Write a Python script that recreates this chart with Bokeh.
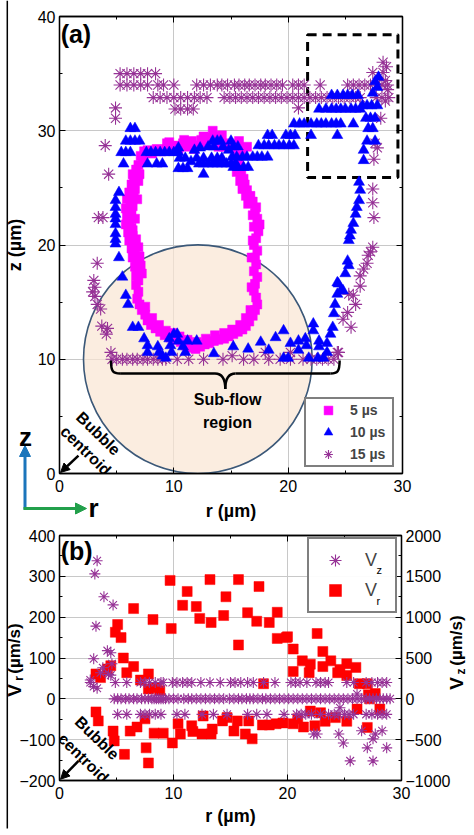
from bokeh.plotting import figure
from bokeh.layouts import column
from bokeh.models import (Range1d, LinearAxis, SingleIntervalTicker, Legend, LegendItem,
                          Label, Arrow, NormalHead)
from bokeh.embed import file_html
from bokeh.resources import INLINE

FONT = "Liberation Sans"

# ---------------- panel (a): interface positions (r, z) in um ----------------
pts_5us = [
    (7.4, 28.2), (7.1, 27.8), (7.3, 27.4), (6.9, 27.0), (6.7, 26.6), (7.0, 26.2), (6.5, 25.9), (6.9, 25.6),
    (6.3, 25.3), (6.6, 24.9), (6.1, 24.6), (6.5, 24.3), (5.9, 24.0), (6.2, 23.6), (5.8, 23.2), (6.3, 22.9),
    (5.9, 22.5), (6.1, 22.1), (5.8, 21.8), (6.3, 21.5), (6.0, 21.1), (6.4, 20.8), (6.1, 20.4), (6.5, 20.1),
    (6.3, 19.7), (6.6, 19.3), (6.4, 18.9), (6.7, 18.5), (6.6, 18.1), (6.8, 17.7), (6.7, 17.3), (6.9, 16.9),
    (6.7, 16.5), (6.9, 15.9), (6.8, 15.3), (7.0, 14.8), (7.2, 14.3), (7.5, 13.9), (7.7, 13.4), (8.0, 13.0),
    (8.4, 12.7), (8.8, 12.4), (9.2, 12.1), (9.7, 11.9), (10.1, 11.7), (10.6, 11.5), (11.0, 11.2), (11.5, 11.0),
    (11.9, 10.9), (12.3, 11.1), (12.7, 11.3), (13.1, 11.4), (13.5, 11.6), (13.9, 11.7), (14.4, 11.8),
    (14.8, 12.0), (15.2, 12.2), (15.6, 12.4), (16.0, 12.6), (16.3, 12.9), (16.6, 13.3), (16.9, 13.8),
    (17.1, 14.3), (17.3, 14.8), (17.2, 15.4), (17.0, 16.0), (17.1, 16.6), (17.3, 17.2), (17.0, 17.7),
    (17.2, 18.3), (17.1, 18.9), (17.3, 19.5), (17.0, 20.0), (17.2, 20.6), (17.4, 21.2), (17.5, 21.8),
    (17.3, 22.3), (17.1, 22.8), (17.2, 23.3), (16.9, 23.8), (16.7, 24.3), (16.4, 24.8), (16.2, 25.3),
    (16.1, 25.8), (15.9, 26.3), (15.8, 26.8), (15.7, 27.3), (15.6, 27.7),
    (16.4, 28.6), (16.0, 28.3), (15.6, 28.8), (15.2, 28.5), (14.8, 28.9), (14.4, 28.6), (14.0, 29.1),
    (13.6, 29.5), (13.4, 30.0), (13.2, 29.4), (12.8, 28.9), (12.4, 29.2), (12.0, 28.7), (11.6, 29.1),
    (11.2, 28.6), (10.8, 28.9), (10.4, 28.4), (10.0, 28.7), (9.6, 29.0), (9.3, 28.4), (8.9, 28.2),
    (8.5, 28.4), (8.1, 28.0), (7.7, 28.3),
    (6.0, 23.0), (6.6, 22.3), (6.4, 21.3), (6.7, 20.5), (6.9, 19.8), (7.0, 19.0), (7.1, 18.2), (7.2, 17.5),
    (6.4, 26.2), (6.8, 24.0), (6.4, 23.4), (7.5, 14.6), (8.1, 13.6), (8.7, 13.0), (9.3, 12.5), (9.9, 12.3),
    (10.5, 12.0), (11.2, 11.7), (12.0, 11.5), (12.8, 11.8), (13.6, 12.1), (14.4, 12.3), (15.1, 12.6),
    (15.8, 13.0), (16.3, 13.6), (16.7, 14.3), (16.8, 16.3), (16.8, 18.9), (16.9, 20.4), (17.0, 21.6),
    (16.9, 22.6), (16.5, 23.6), (16.3, 24.3), (16.0, 24.9), (15.8, 25.6), (15.5, 26.4), (15.4, 27.2),
    (9.4, 28.9), (10.9, 29.2), (12.6, 29.5), (14.2, 29.6), (15.7, 29.1), (11.8, 28.4), (13.9, 28.6),
]

pts_10us = [
    (6.2, 30.2), (6.6, 30.2), (5.8, 29.1), (6.2, 29.1), (6.6, 29.1), (7.0, 29.1),
    (5.4, 28.1), (5.8, 28.1), (6.2, 28.1), (7.6, 28.1), (8.0, 28.1), (8.4, 28.1), (8.8, 28.1), (9.2, 28.1),
    (9.6, 28.1), (10.0, 28.1), (10.4, 28.1), (5.6, 27.1), (7.7, 27.1), (8.5, 27.1), (9.0, 27.1),
    (10.4, 26.7), (10.8, 26.7), (11.2, 26.7), (12.6, 26.2), (10.4, 28.5), (11.8, 28.3), (12.3, 28.5),
    (13.4, 29.1), (13.8, 29.1), (14.1, 29.1), (15.0, 29.1), (10.5, 27.6), (11.0, 27.6), (11.5, 27.3),
    (12.0, 27.6), (12.6, 27.6), (13.3, 27.6), (13.8, 27.6), (14.2, 27.6), (12.2, 27.1), (12.6, 27.1),
    (13.0, 27.1), (13.4, 27.1), (13.8, 27.1), (14.2, 27.1), (14.6, 27.1), (15.0, 27.1), (15.4, 27.1),
    (13.0, 28.6), (13.5, 28.6), (14.3, 28.6), (14.8, 28.3), (15.2, 28.6), (15.6, 28.6),
    (15.1, 27.7), (15.5, 27.7), (16.0, 27.7), (16.4, 27.7), (16.9, 27.7), (17.3, 27.7), (17.7, 27.7),
    (18.2, 27.7), (15.2, 26.8), (15.6, 26.8), (16.1, 26.8), (16.5, 26.8),
    (17.4, 28.7), (17.9, 28.7), (18.3, 28.7), (18.8, 28.7), (19.2, 28.7), (19.6, 28.7), (20.1, 28.7),
    (20.5, 28.7), (18.2, 29.6), (18.6, 29.6), (19.8, 29.6), (20.2, 29.6), (20.6, 29.6), (22.0, 29.6),
    (24.3, 29.6), (20.5, 30.6), (21.0, 30.6), (21.4, 30.6), (22.0, 30.6), (22.5, 30.6), (22.9, 30.6),
    (23.3, 30.6), (23.8, 30.6), (24.2, 30.6), (24.6, 30.6), (25.7, 30.6),
    (22.7, 31.9), (23.3, 31.9), (23.8, 31.9), (24.2, 31.9), (24.6, 31.9), (25.0, 31.9), (25.5, 31.9),
    (25.9, 31.9), (26.3, 31.9), (26.5, 32.2), (26.9, 32.2), (27.3, 32.2), (27.8, 32.2),
    (23.8, 33.1), (24.3, 33.1), (24.8, 33.1), (25.2, 33.1), (25.6, 33.1), (26.1, 33.1),
    (27.4, 33.3), (27.8, 33.8), (27.6, 34.3), (27.9, 34.7),
    (26.8, 31.1), (27.2, 31.1), (27.6, 31.1), (27.0, 30.2), (27.4, 30.2), (26.9, 29.1), (27.6, 29.1),
    (26.6, 28.3), (26.6, 27.4), (26.2, 25.5), (26.3, 24.8), (26.2, 23.9), (26.0, 23.3), (25.9, 22.7),
    (25.7, 21.9), (25.5, 21.3), (25.4, 20.8), (25.3, 20.4), (25.2, 18.6), (25.3, 18.2), (25.0, 17.5),
    (24.3, 16.7), (24.6, 16.0),
    (5.2, 24.6), (4.9, 23.9), (4.9, 23.3), (4.9, 22.7), (4.9, 22.3), (4.9, 21.8), (4.9, 21.0), (4.9, 20.5),
    (4.9, 20.1), (5.2, 18.9), (5.5, 17.2), (5.8, 15.6), (6.0, 14.8), (6.4, 12.8), (6.9, 12.8), (7.4, 11.8),
    (7.7, 11.2), (7.7, 10.6), (8.6, 11.1), (8.7, 10.6), (9.3, 10.1),
    (9.6, 11.8), (10.0, 12.2), (10.3, 12.2), (9.7, 11.2), (10.4, 11.6), (10.8, 11.1), (11.0, 10.6),
    (11.2, 11.6), (12.0, 11.6), (13.5, 10.5), (15.2, 11.1), (16.5, 10.9), (17.6, 11.5), (18.3, 10.8),
    (18.9, 11.9), (19.6, 12.5), (19.6, 10.1), (20.0, 10.1), (20.2, 11.4), (20.9, 11.6), (21.5, 11.8),
    (20.9, 10.8), (21.6, 11.2), (21.8, 10.1), (22.2, 13.1), (22.2, 12.5), (22.7, 11.6), (22.7, 11.1),
    (22.6, 10.1), (23.4, 11.4), (23.4, 10.6), (23.7, 12.2), (23.9, 12.8), (24.0, 14.0), (24.1, 14.8),
    (24.3, 15.7), (24.8, 16.0), (24.4, 16.6), (23.1, 10.1), (9.8, 10.6), (9.0, 10.3),
]

pts_15us = [
    (5.3, 35.0), (5.9, 35.0), (6.5, 35.0), (7.1, 35.0), (7.7, 35.0), (8.4, 35.0),
    (5.3, 34.0), (5.9, 34.0), (6.5, 34.0), (7.1, 34.0), (7.7, 34.0), (8.6, 34.0), (9.1, 34.0), (10.0, 34.0),
    (12.0, 34.0), (12.6, 34.0), (13.2, 34.0), (13.8, 34.0), (14.2, 34.0), (14.7, 34.0), (15.3, 34.0),
    (15.7, 34.0), (16.2, 34.0), (16.6, 34.0), (17.1, 34.0), (17.6, 34.0), (18.0, 34.0), (18.5, 34.0),
    (19.0, 34.0), (19.5, 34.0), (20.4, 34.0), (20.9, 34.0), (21.4, 34.0), (22.8, 34.0), (25.2, 34.0),
    (25.7, 34.0), (26.2, 34.0), (26.7, 34.0), (27.2, 34.0), (27.7, 34.0), (28.2, 34.0), (28.7, 34.0),
    (8.2, 32.9), (8.8, 32.9), (9.4, 32.9), (10.0, 32.9), (10.6, 32.9), (11.2, 32.9), (11.8, 32.9),
    (12.3, 32.9), (12.9, 32.9), (14.4, 32.9), (14.9, 32.9), (15.4, 32.9), (15.9, 32.9), (16.4, 32.9),
    (16.9, 32.9), (17.4, 32.9), (17.9, 32.9), (18.4, 32.9), (18.9, 32.9), (19.4, 32.9), (19.9, 32.9),
    (20.4, 32.9), (20.9, 32.9), (21.4, 32.9), (21.9, 32.9), (22.4, 32.9), (22.9, 32.9), (23.4, 32.9),
    (23.9, 32.9), (24.4, 32.9), (24.9, 32.9), (25.4, 32.9), (25.9, 32.9), (26.3, 32.9), (27.7, 32.9),
    (28.2, 32.9), (28.8, 32.9),
    (10.1, 31.9), (10.6, 31.9), (11.2, 31.9), (11.7, 31.9), (20.9, 32.0),
    (4.9, 32.0), (4.9, 31.1), (4.0, 28.7), (4.3, 26.2), (3.4, 22.4), (3.8, 22.4), (3.3, 18.4), (3.0, 16.9),
    (3.1, 16.3), (2.9, 15.9), (3.1, 15.5), (3.3, 14.8), (3.6, 14.4), (3.7, 12.9), (4.2, 12.7), (4.1, 12.2),
    (4.5, 10.6),
    (28.3, 36.0), (28.6, 35.6), (28.3, 35.1), (27.4, 35.1), (28.5, 34.4), (28.7, 33.6), (28.5, 32.6),
    (28.1, 31.1), (27.6, 28.9), (27.8, 28.5), (27.5, 27.5), (27.4, 24.9), (27.4, 23.7), (27.5, 22.4),
    (27.4, 19.8), (27.2, 19.4), (27.0, 19.1), (26.9, 18.4), (26.6, 17.9), (26.3, 17.3), (26.3, 16.4),
    (25.7, 15.6), (25.3, 15.7), (25.9, 14.8), (25.2, 14.1), (24.8, 13.5), (25.5, 12.8), (24.3, 10.6),
    (4.6, 10.0), (5.0, 10.0), (5.5, 10.0), (5.9, 10.0), (6.4, 10.0), (6.8, 10.0), (7.3, 10.0), (7.7, 10.0),
    (8.2, 10.0), (8.6, 10.0), (9.0, 10.0), (9.3, 10.0), (10.3, 10.0), (11.3, 10.0), (12.6, 10.0),
    (14.3, 10.0), (15.1, 10.3), (16.1, 10.0), (17.0, 10.0), (18.0, 10.6), (18.3, 10.0), (19.3, 10.0),
    (20.2, 10.6), (20.2, 10.0), (21.3, 10.0), (22.0, 10.0), (22.5, 10.0), (23.0, 10.0), (23.5, 10.0),
    (24.0, 10.0), (24.4, 10.6),
]

series_labels_a = ["5 µs", "10 µs", "15 µs"]
bubble_center = (12.1, 10.0)
bubble_radius = 10.0
zoom_box = dict(left=21.7, right=29.6, bottom=25.9, top=38.4)

# ---------------- panel (b): velocities ----------------
pts_vr = [
    (3.2, 61), (3.6, 52), (3.4, -54), (3.2, -32), (4.2, 73), (4.5, 81), (4.7, -79), (4.8, -103), (4.9, 163),
    (5.1, 182), (5.4, 150), (5.6, 100), (5.7, -136), (5.9, 64), (6.2, -79), (6.5, 79), (6.5, 221), (6.8, -69),
    (7.1, 46), (7.5, -49), (7.6, -120), (7.8, -157), (7.8, 61), (7.8, 24), (8.2, 194), (8.3, -84), (8.5, 27),
    (8.8, 20), (9.1, -84), (9.7, 290), (9.8, 172), (9.9, -108), (10.4, -61), (10.6, -86), (10.8, 229),
    (11.2, 263), (11.6, -66), (11.7, -80), (12.0, 226), (12.3, 197), (12.5, -86), (12.6, -42), (13.2, 292),
    (13.3, 187), (13.3, -86), (13.4, -74), (14.3, -54), (14.4, 204), (14.6, 250), (14.7, -46), (15.3, -79),
    (15.6, -54), (15.7, 292), (15.7, 132), (16.3, -86), (16.5, 211), (16.6, -54), (16.9, -98), (17.3, 190),
    (17.5, 275), (17.8, -64), (17.9, 37), (18.4, 187), (18.4, -64), (19.0, -61), (19.1, 212), (19.1, 148),
    (19.6, -59), (19.9, 150), (20.0, 152), (20.5, 122), (20.5, 67), (20.5, -61), (20.9, -49), (21.3, 93),
    (21.4, -69), (21.9, 64), (22.0, 85), (22.0, -30), (22.4, -66), (22.6, 160), (22.9, -34), (23.1, 116),
    (23.1, 79), (23.3, -55), (23.8, 93), (24.2, -46), (24.4, 64), (24.6, 72), (25.2, 86), (25.2, 57),
    (25.2, -55), (26.0, 77), (26.1, -25), (26.3, 37), (27.0, 37), (27.0, -70), (27.1, 10), (27.2, 0),
    (27.7, 13), (28.1, -25),
]

pts_vz = [
    # Vz ~ 0
    (4.8, 0), (5.1, 0), (5.4, 0), (5.8, 0), (6.1, 0), (6.5, 0), (6.8, 0), (7.2, 0), (7.5, 0), (7.8, 0),
    (8.1, 0), (8.3, 0), (8.5, 0), (8.7, 0), (8.9, 0), (9.1, 0), (9.3, 0), (9.6, 0), (10.0, 0), (10.4, 0),
    (10.9, 0), (11.3, 0), (11.6, 0), (12.0, 0), (12.4, 0), (12.8, 0), (13.2, 0), (13.6, 0), (14.0, 0),
    (14.4, 0), (14.9, 0), (15.3, 0), (15.7, 0), (16.0, 0), (16.4, 0), (16.7, 0), (17.0, 0), (17.4, 0),
    (17.8, 0), (18.1, 0), (18.5, 0), (18.9, 0), (19.3, 0), (19.7, 0), (20.1, 0), (20.5, 0), (20.9, 0),
    (21.3, 0), (21.7, 0), (22.1, 0), (22.5, 0), (22.9, 0), (23.3, 0), (23.7, 0), (24.1, 0), (24.5, 0),
    (24.9, 0), (25.3, 0), (25.7, 0), (26.1, 0), (26.5, 0), (26.9, 0), (27.2, 0), (27.5, 0), (27.8, 0),
    (28.1, 0), (28.4, 0), (28.7, 0), (29.0, 0),
    # Vz ~ +200
    (2.7, 200), (4.9, 200), (5.9, 200), (7.1, 200), (7.5, 200), (7.9, 200), (8.4, 200), (8.9, 200),
    (9.1, 200), (9.9, 200), (10.3, 200), (10.8, 200), (11.2, 200), (11.6, 200), (12.4, 200), (13.2, 200),
    (14.1, 200), (15.0, 200), (15.4, 200), (15.9, 200), (16.5, 200), (17.0, 200), (17.9, 200), (18.9, 200),
    (20.3, 200), (20.7, 200), (21.1, 200), (21.7, 200), (22.5, 200), (22.9, 200), (23.3, 200), (23.6, 200),
    (25.2, 200), (25.8, 200), (26.9, 200), (27.4, 200), (27.9, 200), (28.3, 200), (28.7, 200),
    # Vz ~ -190
    (5.1, -190), (5.9, -190), (7.1, -190), (7.5, -190), (7.9, -190), (8.4, -190), (8.9, -190), (10.3, -190),
    (11.0, -190), (12.5, -190), (13.5, -190), (14.7, -190), (16.5, -190), (17.3, -190), (18.2, -190),
    (19.7, -190), (20.8, -190), (21.2, -190), (21.6, -190), (22.1, -190), (22.9, -190), (23.6, -190),
    (24.1, -190), (24.5, -190), (25.0, -190), (25.4, -190), (25.8, -190), (26.9, -190), (27.4, -190),
    (27.9, -190), (28.3, -190), (28.7, -190),
    # scattered
    (3.3, 1690), (3.1, 1530), (3.9, 1250), (4.7, 1150), (3.2, 890), (3.0, 490), (4.2, 590), (4.5, 565),
    (4.6, 430), (3.6, 320), (3.0, 150), (3.3, 130), (4.3, 300), (4.5, 290), (2.7, 230), (3.8, 380),
    (25.5, -760), (27.5, -760), (24.9, -540), (24.5, -430), (27.0, -600), (26.5, -390), (27.5, -490),
    (28.7, -600), (28.3, -390), (27.7, -430), (26.1, 60), (22.3, -430), (22.6, -430), (24.6, -110),
]

PURPLE = "#963296"
BLUE_ARROW = "#1B75BB"
GREEN_ARROW = "#22A04B"


# ---------------- styling helpers ----------------
def style_axis(ax, standoff):
    ax.axis_line_color = "black"
    ax.axis_line_width = 1.3
    ax.major_tick_in = 6
    ax.major_tick_out = 0
    ax.minor_tick_in = 3
    ax.minor_tick_out = 0
    ax.major_tick_line_color = "black"
    ax.minor_tick_line_color = "black"
    ax.major_label_text_font = FONT
    ax.major_label_text_font_size = "16px"
    ax.major_label_text_color = "black"
    ax.major_label_standoff = standoff
    ax.axis_label_text_font = FONT
    ax.axis_label_text_font_size = "18px"
    ax.axis_label_text_font_style = "bold"
    ax.axis_label_text_color = "black"


def mirror_axis(interval):
    ax = LinearAxis(ticker=SingleIntervalTicker(interval=interval, num_minor_ticks=2))
    style_axis(ax, 0)
    ax.major_label_text_font_size = "1px"
    ax.major_label_text_color = None
    return ax


def txt(x, y, text, size, angle=0.0, bold=True, align="center", baseline="middle", color="black", **kw):
    return Label(x=x, y=y, text=text, angle=angle, text_font=FONT, text_font_size=size,
                 text_font_style="bold" if bold else "normal", text_align=align,
                 text_baseline=baseline, text_color=color, **kw)


def base_fig(**kw):
    p = figure(output_backend="svg", toolbar_location=None, **kw)
    p.outline_line_color = "black"
    p.outline_line_width = 1.3
    p.background_fill_color = "white"
    p.border_fill_color = "white"
    return p


# ================= panel (a) =================
p1 = base_fig(frame_width=343, frame_height=457, x_range=Range1d(0, 30), y_range=Range1d(0, 40),
              min_border_left=59, min_border_right=72, min_border_top=16, min_border_bottom=52,
              x_axis_label="r (µm)", y_axis_label="z (µm)")
t10x = SingleIntervalTicker(interval=10, num_minor_ticks=2)
t10y = SingleIntervalTicker(interval=10, num_minor_ticks=2)
p1.xaxis.ticker = t10x
p1.yaxis.ticker = t10y
p1.xgrid.ticker = t10x
p1.ygrid.ticker = t10y
for g in (p1.xgrid, p1.ygrid):
    g.grid_line_color = "#c8c8c8"
    g.grid_line_width = 1
style_axis(p1.xaxis[0], 6)
style_axis(p1.yaxis[0], 4)
p1.xaxis.axis_label_standoff = 6
p1.yaxis.axis_label_standoff = 10
p1.add_layout(mirror_axis(10), "above")
p1.add_layout(mirror_axis(10), "right")

p1.circle(x=[bubble_center[0]], y=[bubble_center[1]], radius=bubble_radius,
          fill_color="#F9E6D3", fill_alpha=0.7, line_color="#3B5878", line_width=1.6)
p1.quad(left=[zoom_box["left"]], right=[zoom_box["right"]], bottom=[zoom_box["bottom"]],
        top=[zoom_box["top"]], fill_color=None, line_color="black", line_width=3, line_dash="9 6")

r15 = p1.scatter([p[0] for p in pts_15us], [p[1] for p in pts_15us], marker="asterisk", size=13,
                 line_color=PURPLE, line_width=1.1)
r5 = p1.scatter([p[0] for p in pts_5us], [p[1] for p in pts_5us], marker="square", size=9,
                fill_color="#FF00FF", line_color="#FF00FF", line_width=0.5)
r10 = p1.scatter([p[0] for p in pts_10us], [p[1] for p in pts_10us], marker="triangle", size=11,
                 fill_color="#0000FF", line_color="#0000FF", line_width=0.5)

brace_y, brace_tip = 8.75, 7.4
p1.bezier(x0=[4.5, 13.6, 14.5, 23.7], y0=[9.9, brace_y, brace_tip, brace_y],
          x1=[5.3, 14.5, 15.4, 24.5], y1=[brace_y, brace_tip, brace_y, 9.9],
          cx0=[4.5, 14.3, 14.5, 24.3], cy0=[8.9, brace_y, 8.2, brace_y],
          cx1=[4.7, 14.5, 14.7, 24.5], cy1=[brace_y, 8.2, brace_y, 8.9],
          line_color="black", line_width=2.5)
p1.segment(x0=[5.3, 15.4], y0=[brace_y, brace_y], x1=[13.6, 23.7], y1=[brace_y, brace_y],
           line_color="black", line_width=2.5)

p1.add_layout(txt(14.7, 6.5, "Sub-flow", "16px"))
p1.add_layout(txt(14.7, 4.5, "region", "16px"))
p1.add_layout(txt(0.1, 39.7, "(a)", "25px", align="left", baseline="top"))
p1.add_layout(txt(3.4, 3.5, "Bubble", "16px", angle=-0.77))
p1.add_layout(txt(2.3, 2.0, "centroid", "16px", angle=-0.77))
p1.add_layout(Arrow(end=NormalHead(size=9, fill_color="black", line_color="black"),
                    x_start=1.66, y_start=1.57, x_end=0.09, y_end=0.09,
                    line_color="black", line_width=2.5))

leg1 = Legend(items=[LegendItem(label=series_labels_a[0], renderers=[r5]),
                     LegendItem(label=series_labels_a[1], renderers=[r10]),
                     LegendItem(label=series_labels_a[2], renderers=[r15])],
              location=(245, 6), padding=0, spacing=0, glyph_width=44, glyph_height=22,
              label_height=22, label_standoff=0, label_width=42, margin=0,
              label_text_font=FONT, label_text_font_size="14px", label_text_font_style="bold",
              border_line_color="black", border_line_width=2, background_fill_color="white")
p1.add_layout(leg1)

# ================= panel (b) =================
p2 = base_fig(frame_width=342, frame_height=245, x_range=Range1d(0, 30), y_range=Range1d(-200, 400),
              min_border_left=59, min_border_right=73, min_border_top=10, min_border_bottom=50,
              x_axis_label="r (µm)")
p2.extra_y_ranges = {"vz": Range1d(-1000, 2000)}
tbx = SingleIntervalTicker(interval=10, num_minor_ticks=2)
tby = SingleIntervalTicker(interval=100, num_minor_ticks=2)
p2.xaxis.ticker = tbx
p2.yaxis.ticker = tby
p2.xgrid.ticker = tbx
p2.ygrid.ticker = tby
for g in (p2.xgrid, p2.ygrid):
    g.grid_line_color = "#c8c8c8"
    g.grid_line_width = 1
style_axis(p2.xaxis[0], 6)
style_axis(p2.yaxis[0], 4)
p2.xaxis.axis_label_standoff = 4
vz_axis = LinearAxis(y_range_name="vz", ticker=SingleIntervalTicker(interval=500, num_minor_ticks=2))
style_axis(vz_axis, 4)
p2.add_layout(vz_axis, "right")
p2.add_layout(mirror_axis(10), "above")

rvr = p2.scatter([p[0] for p in pts_vr], [p[1] for p in pts_vr], marker="square", size=10,
                 fill_color="#FF0000", line_color="#FF0000", line_width=0.5)
rvz = p2.scatter([p[0] for p in pts_vz], [p[1] for p in pts_vz], marker="asterisk", size=11,
                 line_color=PURPLE, line_width=1.1, y_range_name="vz")

p2.add_layout(txt(0.1, 397, "(b)", "25px", align="left", baseline="top"))
p2.add_layout(txt(3.3, -96, "Bubble", "16px", angle=-0.77))
p2.add_layout(txt(2.1, -145, "centroid", "16px", angle=-0.77))
p2.add_layout(Arrow(end=NormalHead(size=9, fill_color="black", line_color="black"),
                    x_start=1.67, y_start=-152, x_end=0.09, y_end=-197,
                    line_color="black", line_width=2.5))

leg2 = Legend(items=[LegendItem(label="V", renderers=[rvz]),
                     LegendItem(label="V", renderers=[rvr])],
              location=(248, 167), padding=6, spacing=0, glyph_width=40, glyph_height=30,
              label_height=30, label_standoff=10, label_width=24, margin=0,
              label_text_font=FONT, label_text_font_size="18px",
              border_line_color="black", border_line_width=2, background_fill_color="white")
p2.add_layout(leg2)

# ================= page overlay (page-pixel coordinates) for decorations outside the frames ==========
ov = figure(width=474, height=830, x_range=Range1d(0, 474), y_range=Range1d(830, 0),
            x_axis_type=None, y_axis_type=None, output_backend="svg", toolbar_location=None,
            min_border=0, frame_align=False,
            styles={"position": "absolute", "left": "0px", "top": "0px"})
ov.outline_line_color = None
ov.background_fill_alpha = 0
ov.border_fill_alpha = 0
ov.grid.visible = False
# page border line on the left
ov.segment(x0=[6.8], y0=[0], x1=[6.8], y1=[828], line_color="black", line_width=1.5)
# coordinate-system arrows
ov.add_layout(Arrow(end=NormalHead(size=11, fill_color=BLUE_ARROW, line_color=BLUE_ARROW),
                    x_start=24.5, y_start=509, x_end=24.5, y_end=445,
                    line_color=BLUE_ARROW, line_width=3))
ov.add_layout(Arrow(end=NormalHead(size=11, fill_color=GREEN_ARROW, line_color=GREEN_ARROW),
                    x_start=23, y_start=508, x_end=86, y_end=508,
                    line_color=GREEN_ARROW, line_width=3))
ov.add_layout(txt(25, 436, "z", "26px"))
ov.add_layout(txt(93, 507, "r", "26px"))
# panel (b) axis titles with subscripts
ov.add_layout(txt(14, 690, "V", "19px", angle=1.5708))
ov.add_layout(txt(18, 678, "r", "12px", angle=1.5708))
ov.add_layout(txt(14, 648, "(µm/s)", "17px", angle=1.5708))
ov.add_layout(txt(456, 683, "V", "19px", angle=1.5708))
ov.add_layout(txt(460, 671, "z", "12px", angle=1.5708))
ov.add_layout(txt(456, 640, "(µm/s)", "17px", angle=1.5708))
# subscripts for the panel (b) legend labels
ov.add_layout(txt(376, 569, "z", "11px", bold=False, align="left"))
ov.add_layout(txt(376, 600, "r", "11px", bold=False, align="left"))

layout = column(p1, p2, ov, spacing=0)
open("out.html", "w").write(file_html(layout, INLINE))
